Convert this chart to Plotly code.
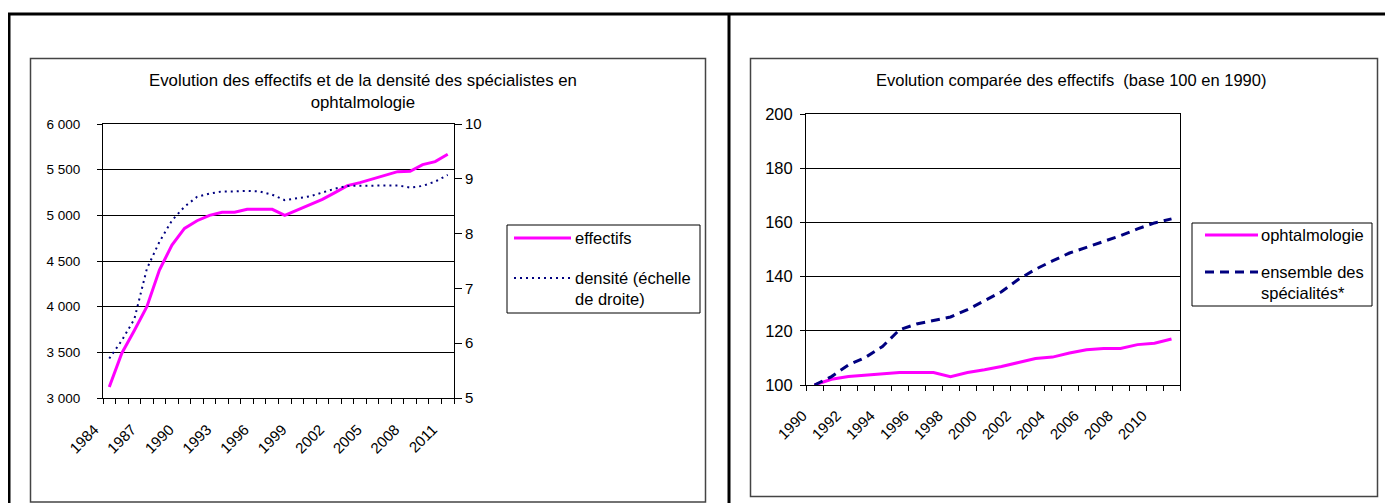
import plotly.graph_objects as go

W, H = 1393, 503
OFF = 8  # page body margin

# ---------------- data ----------------
years_left = list(range(1984, 2012))
effectifs = [3120, 3490, 3740, 4000, 4400, 4675, 4857, 4941, 5000, 5033,
             5033, 5066, 5066, 5066, 5000, 5058, 5113, 5175, 5248, 5325,
             5358, 5398, 5445, 5478, 5482, 5555, 5588, 5668]
densite = [5.72, 6.05, 6.44, 7.36, 7.85, 8.24, 8.49, 8.67, 8.73, 8.77,
           8.77, 8.78, 8.77, 8.71, 8.61, 8.64, 8.68, 8.75, 8.82, 8.87,
           8.87, 8.88, 8.88, 8.88, 8.84, 8.87, 8.95, 9.07]
left_y_ticks = [3000, 3500, 4000, 4500, 5000, 5500, 6000]
left_y_labels = ["3 000", "3 500", "4 000", "4 500", "5 000", "5 500", "6 000"]
right_y_ticks = [5, 6, 7, 8, 9, 10]
left_x_labels = [1984, 1987, 1990, 1993, 1996, 1999, 2002, 2005, 2008, 2011]

years_right = list(range(1990, 2012))
ophtalmologie = [100, 102.1, 103.1, 103.6, 104.1, 104.6, 104.6, 104.6, 103.1, 104.6,
                 105.6, 106.8, 108.3, 109.8, 110.3, 111.8, 113.0, 113.5, 113.5, 114.9,
                 115.4, 117.0]
ensemble = [100, 103.1, 107.4, 110.2, 114.2, 120.4, 122.5, 123.8, 125.1, 127.8,
            131.0, 134.4, 139.0, 142.7, 145.8, 148.7, 150.8, 152.9, 155.1, 157.6,
            159.8, 161.3]
right_x_labels = list(range(1990, 2011, 2))
right_y_ticks2 = [100, 120, 140, 160, 180, 200]

title_left_1 = "Evolution des effectifs et de la densité des spécialistes en"
title_left_2 = "ophtalmologie"
title_right = "Evolution comparée des effectifs  (base 100 en 1990)"
legend_left = ["effectifs", "densité (échelle<br>de droite)"]
legend_right = ["ophtalmologie", "ensemble des<br>spécialités*"]

MAGENTA = "#FF00FF"
NAVY = "#000080"
FONT = "Liberation Sans, Arial, sans-serif"


def px(x):
    return (x - OFF) / W


def py(y):
    return 1 - (y - OFF) / H


def f(size):
    return dict(family=FONT, size=size, color="black")


fig = go.Figure()

fig.add_trace(go.Scatter(x=years_left, y=effectifs, name=legend_left[0], mode="lines",
                         line=dict(color=MAGENTA, width=3), xaxis="x", yaxis="y"))
fig.add_trace(go.Scatter(x=years_left, y=densite, name=legend_left[1], mode="lines",
                         line=dict(color=NAVY, width=2, dash="2px,4px"), xaxis="x", yaxis="y2"))
fig.add_trace(go.Scatter(x=years_right, y=ophtalmologie, name=legend_right[0], mode="lines",
                         line=dict(color=MAGENTA, width=3), xaxis="x2", yaxis="y3"))
fig.add_trace(go.Scatter(x=years_right, y=ensemble, name=legend_right[1], mode="lines",
                         line=dict(color=NAVY, width=3, dash="9px,6px"), xaxis="x2", yaxis="y3"))

axis_common = dict(showline=True, linecolor="black", linewidth=1, zeroline=False, automargin=False)

fig.update_layout(
    width=W, height=H, margin=dict(l=0, r=0, t=0, b=0, autoexpand=False),
    paper_bgcolor="white", plot_bgcolor="white", showlegend=False,
    font=dict(family=FONT, size=13, color="black"),
    xaxis=dict(domain=[px(103), px(454)], anchor="y", range=[1983.5, 2011.5],
               tickmode="array", tickvals=left_x_labels, ticktext=[str(v) for v in left_x_labels],
               tickangle=-45, ticks="", showgrid=False, mirror=True, tickfont=f(15),
               ticklabelstandoff=16, ticklabelshift=-15,
               minor=dict(ticks="outside", tick0=1983.5, dtick=1, ticklen=5,
                          tickcolor="black", showgrid=False),
               **axis_common),
    yaxis=dict(domain=[py(398), py(124)], anchor="x", range=[3000, 6000],
               tickmode="array", tickvals=left_y_ticks, ticktext=left_y_labels,
               ticks="outside", ticklen=5, tickcolor="black", ticklabelstandoff=14,
               tickfont=f(13.5),
               showgrid=True, gridcolor="black", gridwidth=1, **axis_common),
    yaxis2=dict(overlaying="y", anchor="x", side="right", range=[5, 10],
                tickmode="array", tickvals=right_y_ticks,
                ticks="outside", ticklen=7, tickcolor="black", ticklabelstandoff=0,
                tickfont=f(15), showgrid=False, **axis_common),
    xaxis2=dict(domain=[px(806), px(1180)], anchor="y3", range=[1989.5, 2011.5],
                tickmode="array", tickvals=right_x_labels, ticktext=[str(v) for v in right_x_labels],
                tickangle=-45, ticks="", showgrid=False, mirror=True, tickfont=f(15),
                ticklabelstandoff=15, ticklabelshift=-12,
                minor=dict(ticks="outside", tick0=1989.5, dtick=1, ticklen=5,
                           tickcolor="black", showgrid=False),
                **axis_common),
    yaxis3=dict(domain=[py(385), py(114)], anchor="x2", range=[100, 200],
                tickmode="array", tickvals=right_y_ticks2,
                ticks="outside", ticklen=5, tickcolor="black", ticklabelstandoff=4,
                tickfont=f(16.5),
                showgrid=True, gridcolor="black", gridwidth=1, mirror=True, **axis_common),
)

shapes = []
# outer table frame
shapes.append(dict(type="line", xref="paper", yref="paper", x0=px(8), x1=px(1400), y0=py(14), y1=py(14),
                   line=dict(color="black", width=3)))
shapes.append(dict(type="line", xref="paper", yref="paper", x0=px(9), x1=px(9), y0=py(14), y1=py(520),
                   line=dict(color="black", width=3)))
shapes.append(dict(type="line", xref="paper", yref="paper", x0=px(729), x1=px(729), y0=py(14), y1=py(520),
                   line=dict(color="black", width=3)))
# chart boxes
shapes.append(dict(type="rect", xref="paper", yref="paper", x0=px(30.5), x1=px(705.5),
                   y0=py(502), y1=py(58.5), line=dict(color="#444444", width=1.5)))
shapes.append(dict(type="rect", xref="paper", yref="paper", x0=px(750.5), x1=px(1377.5),
                   y0=py(496.5), y1=py(58.5), line=dict(color="#444444", width=1.5)))
# legend boxes
shapes.append(dict(type="rect", xref="paper", yref="paper", x0=px(507), x1=px(700),
                   y0=py(313), y1=py(225), line=dict(color="black", width=1)))
shapes.append(dict(type="rect", xref="paper", yref="paper", x0=px(1192), x1=px(1372),
                   y0=py(306), y1=py(223), line=dict(color="black", width=1)))
# legend samples
shapes.append(dict(type="line", xref="paper", yref="paper", x0=px(514), x1=px(571), y0=py(238), y1=py(238),
                   line=dict(color=MAGENTA, width=3)))
shapes.append(dict(type="line", xref="paper", yref="paper", x0=px(514), x1=px(571), y0=py(278), y1=py(278),
                   line=dict(color=NAVY, width=2, dash="2px,4px")))
shapes.append(dict(type="line", xref="paper", yref="paper", x0=px(1205), x1=px(1258), y0=py(235), y1=py(235),
                   line=dict(color=MAGENTA, width=3)))
shapes.append(dict(type="line", xref="paper", yref="paper", x0=px(1205), x1=px(1258), y0=py(272), y1=py(272),
                   line=dict(color=NAVY, width=3, dash="9px,6px")))
fig.update_layout(shapes=shapes)

ann = []
ann.append(dict(text=title_left_1 + "<br>" + title_left_2, xref="paper", yref="paper",
                x=px(363), y=py(69), xanchor="center", yanchor="top", showarrow=False,
                font=f(16.8), align="center"))
ann.append(dict(text=title_right, xref="paper", yref="paper",
                x=px(1071), y=py(69), xanchor="center", yanchor="top", showarrow=False,
                font=f(16.5)))
ann.append(dict(text=legend_left[0], xref="paper", yref="paper", x=px(573), y=py(238),
                xanchor="left", yanchor="middle", showarrow=False, align="left", font=f(16.5)))
ann.append(dict(text=legend_left[1], xref="paper", yref="paper", x=px(573), y=py(267),
                xanchor="left", yanchor="top", showarrow=False, align="left", font=f(16.5)))
ann.append(dict(text=legend_right[0], xref="paper", yref="paper", x=px(1259), y=py(235),
                xanchor="left", yanchor="middle", showarrow=False, align="left", font=f(16.5)))
ann.append(dict(text=legend_right[1], xref="paper", yref="paper", x=px(1259), y=py(261),
                xanchor="left", yanchor="top", showarrow=False, align="left", font=f(16.5)))
fig.update_layout(annotations=ann)

fig.write_html("out.html")
